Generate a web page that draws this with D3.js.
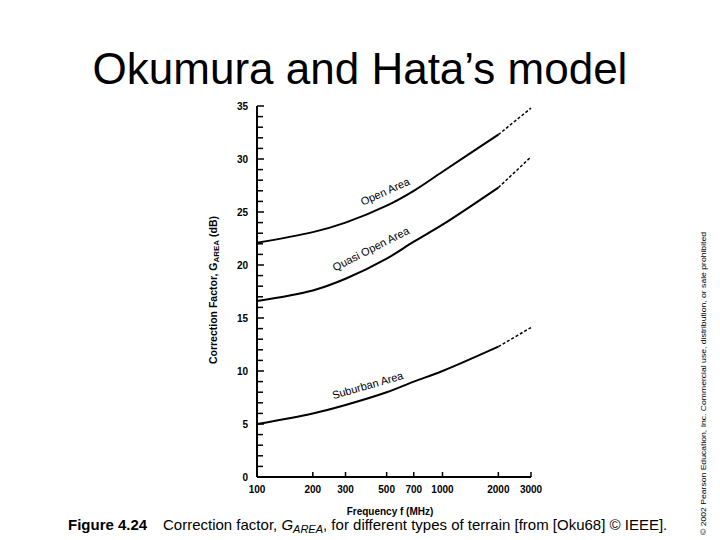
<!DOCTYPE html><html><head><meta charset="utf-8"><script src="https://cdn.jsdelivr.net/npm/d3@7"></script>
<style>body{margin:0;background:#fff}</style></head><body><svg id="c" width="720" height="540"></svg>
<script>
const freqs=[100,200,300,500,700,1000,2000];
const freqsDash=[2000,3000];
const openArea=[22.1,23.1,24.0,25.6,27.0,28.8,32.3];
const openDash=[32.3,34.8];
const quasiOpen=[16.6,17.6,18.7,20.6,22.2,23.8,27.3];
const quasiDash=[27.3,30.2];
const suburban=[5.0,6.0,6.8,8.0,9.0,10.0,12.3];
const suburbanDash=[12.3,14.1];
const xTicks=[100,200,300,500,700,1000,2000,3000];
const yTicks=[0,5,10,15,20,25,30,35];
const labels=[{t:"Open Area",f:500,v:26.6,a:-24},{t:"Quasi Open Area",f:420,v:21.2,a:-27},{t:"Suburban Area",f:400,v:8.3,a:-16}];

const svg=d3.select("#c");
const x=d3.scaleLog().domain([100,3000]).range([257,531]);
const y=d3.scaleLinear().domain([0,35]).range([477,106]);
svg.append("text").attr("x",360).attr("y",84).attr("text-anchor","middle").attr("font-family","Liberation Sans, Arial").attr("font-size",44).text("Okumura and Hata’s model");
const g=svg.append("g").attr("font-family","Liberation Sans, Arial");
g.append("line").attr("x1",257).attr("x2",257).attr("y1",y(35)).attr("y2",y(0)).attr("stroke","#000").attr("stroke-width",2);
g.append("line").attr("x1",257).attr("x2",531).attr("y1",y(0)).attr("y2",y(0)).attr("stroke","#000").attr("stroke-width",2);
g.selectAll(".mt").data(d3.range(0,36)).join("line").attr("x1",257).attr("x2",d=>d%5==0?264:263).attr("y1",d=>y(d)).attr("y2",d=>y(d)).attr("stroke","#000").attr("stroke-width",1.5);
g.selectAll(".yl").data(yTicks).join("text").attr("x",248).attr("y",d=>y(d)+4).attr("text-anchor","end").attr("font-size",10).attr("font-weight","bold").text(d=>d);
g.selectAll(".xt").data(xTicks).join("line").attr("x1",d=>x(d)).attr("x2",d=>x(d)).attr("y1",y(0)).attr("y2",y(0)-5).attr("stroke","#000").attr("stroke-width",1.5);
g.selectAll(".xl").data(xTicks).join("text").attr("x",d=>x(d)).attr("y",493).attr("text-anchor","middle").attr("font-size",10).attr("font-weight","bold").text(d=>d);
g.append("text").attr("x",390).attr("y",515).attr("text-anchor","middle").attr("font-size",10).attr("font-weight","bold").text("Frequency f (MHz)");
const yl=g.append("text").attr("transform","translate(217,290) rotate(-90)").attr("text-anchor","middle").attr("font-size",10.5).attr("font-weight","bold");
yl.append("tspan").text("Correction Factor, G");yl.append("tspan").attr("font-size",8).attr("dy",2).text("AREA");yl.append("tspan").attr("dy",-2).text("  (dB)");
const line=d3.line().x(d=>x(d[0])).y(d=>y(d[1])).curve(d3.curveCatmullRom);
[[openArea,openDash],[quasiOpen,quasiDash],[suburban,suburbanDash]].forEach(([s,dsh])=>{
 g.append("path").attr("d",line(freqs.map((f,i)=>[f,s[i]]))).attr("fill","none").attr("stroke","#000").attr("stroke-width",2);
 g.append("path").attr("d",line(freqsDash.map((f,i)=>[f,dsh[i]]))).attr("fill","none").attr("stroke","#000").attr("stroke-width",1.5).attr("stroke-dasharray","3,2");
});
labels.forEach(l=>g.append("text").attr("transform",`translate(${x(l.f)},${y(l.v)}) rotate(${l.a})`).attr("text-anchor","middle").attr("font-size",11).text(l.t));
svg.append("text").attr("transform","translate(706,535) rotate(-90)").attr("font-family","Liberation Sans, Arial").attr("font-size",8).attr("textLength",303).attr("lengthAdjust","spacingAndGlyphs").text("© 2002 Pearson Education, Inc. Commercial use, distribution, or sale prohibited");
svg.append("text").attr("x",68).attr("y",530).attr("font-family","Liberation Sans, Arial").attr("font-size",15).attr("font-weight","bold").text("Figure 4.24");
const cap=svg.append("text").attr("x",163).attr("y",530).attr("font-family","Liberation Sans, Arial").attr("font-size",15);
cap.append("tspan").text("Correction factor, ");cap.append("tspan").attr("font-style","italic").text("G");
cap.append("tspan").attr("font-style","italic").attr("font-size",11).attr("dy",3).text("AREA");
cap.append("tspan").attr("dy",-3).text(", for different types of terrain [from [Oku68] © IEEE].");
</script></body></html>
